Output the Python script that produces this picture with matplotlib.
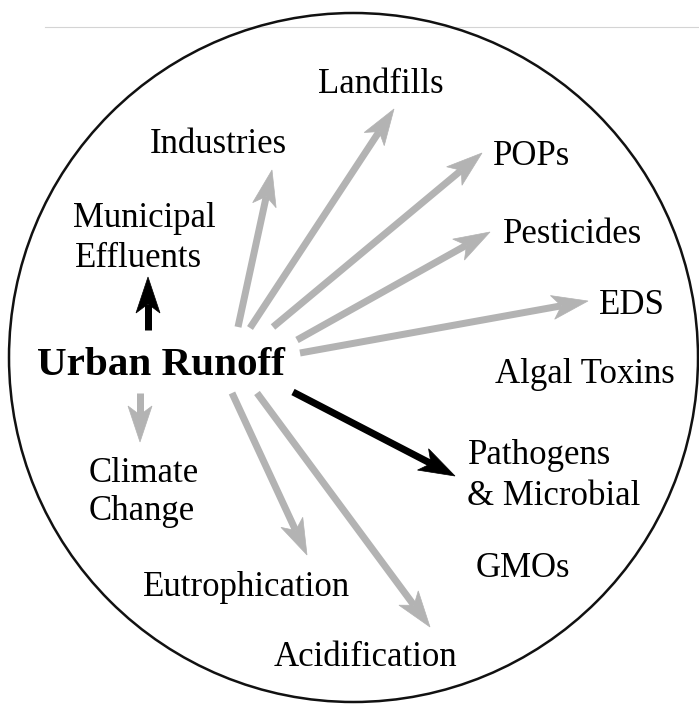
import numpy as np
import matplotlib.pyplot as plt
from matplotlib.patches import Circle, Polygon

# labels around the circle (one entry per text line)
labels = ["Landfills", "Industries", "POPs", "Municipal", "Effluents", "Pesticides",
          "EDS", "Algal Toxins", "Pathogens", "& Microbial", "Climate", "Change",
          "GMOs", "Eutrophication", "Acidification"]
label_x = [318, 150, 493, 73, 75, 503, 599, 495, 468, 467, 89, 89, 476, 143, 274]
label_y = [93, 153, 165, 227, 267, 243, 314, 383, 464, 505, 482, 520, 577, 596, 666]

center_label = "Urban Runoff"

# arrows from the centre label (tail -> head), pixel coords
arrow_names = ["Municipal", "Climate", "Industries", "Landfills", "POPs", "Pesticides",
               "EDS", "Pathogens", "Eutrophication", "Acidification"]
tail_x = [148, 140, 238, 250, 273, 297, 300, 293, 232, 257]
tail_y = [330, 393, 327, 328, 327, 340, 353, 392, 393, 393]
head_x = [148, 140, 272, 394, 482, 490, 588, 455, 307, 430]
head_y = [277, 442, 170, 109, 153, 232, 301, 476, 555, 627]
highlight = ["Municipal", "Pathogens"]

GRAY = "#b3b3b3"
FONT = ["Liberation Serif", "DejaVu Serif"]


def draw_arrow(ax, x0, y0, x1, y1, color, shaft=7, head_len=36, head_w=24, notch=9):
    dx, dy = x1 - x0, y1 - y0
    L = np.hypot(dx, dy)
    ux, uy = dx / L, dy / L
    px, py = -uy, ux
    bx, by = x1 - ux * head_len, y1 - uy * head_len
    nx_, ny_ = x1 - ux * (head_len - notch), y1 - uy * (head_len - notch)
    ax.plot([x0, nx_], [y0, ny_], color=color, lw=shaft * 0.72,
            solid_capstyle="butt", zorder=2)
    pts = [(x1, y1),
           (bx + px * head_w / 2, by + py * head_w / 2),
           (nx_, ny_),
           (bx - px * head_w / 2, by - py * head_w / 2)]
    ax.add_patch(Polygon(pts, closed=True, facecolor=color, edgecolor=color,
                         lw=0.5, zorder=3))


fig = plt.figure(figsize=(6.99, 7.04), dpi=100)
ax = fig.add_axes([0, 0, 1, 1])
ax.set_xlim(0, 699)
ax.set_ylim(704, 0)
ax.axis("off")

# faint rule at the top
ax.plot([45, 699], [27, 27], color="#d4d4d4", lw=0.8, zorder=1)

ax.add_patch(Circle((353.5, 357.5), 344.5, fill=False, edgecolor="#111111",
                    lw=1.8, zorder=4))

for name, x0, y0, x1, y1 in zip(arrow_names, tail_x, tail_y, head_x, head_y):
    c = "black" if name in highlight else GRAY
    draw_arrow(ax, x0, y0, x1, y1, c)

for txt, x, y in zip(labels, label_x, label_y):
    ax.text(x, y, txt, family=FONT, fontsize=25, ha="left", va="baseline",
            color="black", zorder=5)

ax.text(37, 375, center_label, family=FONT, fontsize=29.6, fontweight="bold",
        ha="left", va="baseline", color="black", zorder=5)

fig.savefig("out.png", dpi=100)
